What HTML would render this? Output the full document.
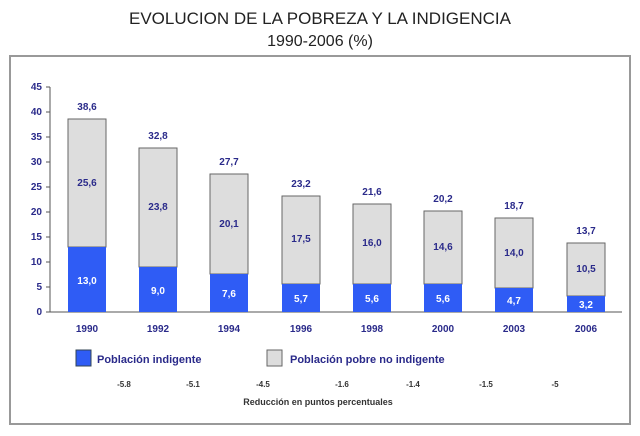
<!DOCTYPE html>
<html><head><meta charset="utf-8"><style>
body{margin:0;background:#fff;width:640px;height:431px;overflow:hidden}
svg text{font-family:"Liberation Sans",sans-serif}
</style></head><body>
<svg width="640" height="431" xmlns="http://www.w3.org/2000/svg">
<text x="320" y="24" text-anchor="middle" font-size="17" fill="#222">EVOLUCION DE LA POBREZA Y LA INDIGENCIA</text>
<text x="320" y="46" text-anchor="middle" font-size="16" fill="#222">1990-2006 (%)</text>
<rect x="10" y="56" width="620" height="368" fill="#fff" stroke="#999" stroke-width="2"/>
<g font-size="10" font-weight="bold" fill="#2a2a8a" text-anchor="end">
<text x="42" y="315">0</text><text x="42" y="290">5</text><text x="42" y="265">10</text><text x="42" y="240">15</text><text x="42" y="215">20</text><text x="42" y="190">25</text><text x="42" y="165">30</text><text x="42" y="140">35</text><text x="42" y="115">40</text><text x="42" y="90">45</text>
</g>
<g stroke="#555" stroke-width="1">
<line x1="50" y1="87" x2="50" y2="312"/><line x1="50" y1="312" x2="622" y2="312"/>
<line x1="46" y1="87" x2="50" y2="87"/><line x1="46" y1="112" x2="50" y2="112"/><line x1="46" y1="137" x2="50" y2="137"/><line x1="46" y1="162" x2="50" y2="162"/><line x1="46" y1="187" x2="50" y2="187"/><line x1="46" y1="212" x2="50" y2="212"/><line x1="46" y1="237" x2="50" y2="237"/><line x1="46" y1="262" x2="50" y2="262"/><line x1="46" y1="287" x2="50" y2="287"/><line x1="46" y1="312" x2="50" y2="312"/>
</g>
<g id="bars" font-size="10" font-weight="bold" text-anchor="middle">
<!-- center, total, ind -->
<rect x="68" y="119" width="38" height="128" fill="#ddd" stroke="#666"/><rect x="68" y="247" width="38" height="65" fill="#2f5cf5"/>
<text x="87" y="110" fill="#2a2a8a">38,6</text><text x="87" y="186" fill="#2a2a8a">25,6</text><text x="87" y="284" fill="#fff">13,0</text>
<rect x="139" y="148" width="38" height="119" fill="#ddd" stroke="#666"/><rect x="139" y="267" width="38" height="45" fill="#2f5cf5"/>
<text x="158" y="139" fill="#2a2a8a">32,8</text><text x="158" y="210" fill="#2a2a8a">23,8</text><text x="158" y="294" fill="#fff">9,0</text>
<rect x="210" y="174" width="38" height="100" fill="#ddd" stroke="#666"/><rect x="210" y="274" width="38" height="38" fill="#2f5cf5"/>
<text x="229" y="165" fill="#2a2a8a">27,7</text><text x="229" y="227" fill="#2a2a8a">20,1</text><text x="229" y="297" fill="#fff">7,6</text>
<rect x="282" y="196" width="38" height="88" fill="#ddd" stroke="#666"/><rect x="282" y="284" width="38" height="28" fill="#2f5cf5"/>
<text x="301" y="187" fill="#2a2a8a">23,2</text><text x="301" y="242" fill="#2a2a8a">17,5</text><text x="301" y="302" fill="#fff">5,7</text>
<rect x="353" y="204" width="38" height="80" fill="#ddd" stroke="#666"/><rect x="353" y="284" width="38" height="28" fill="#2f5cf5"/>
<text x="372" y="195" fill="#2a2a8a">21,6</text><text x="372" y="246" fill="#2a2a8a">16,0</text><text x="372" y="302" fill="#fff">5,6</text>
<rect x="424" y="211" width="38" height="73" fill="#ddd" stroke="#666"/><rect x="424" y="284" width="38" height="28" fill="#2f5cf5"/>
<text x="443" y="202" fill="#2a2a8a">20,2</text><text x="443" y="250" fill="#2a2a8a">14,6</text><text x="443" y="302" fill="#fff">5,6</text>
<rect x="495" y="218" width="38" height="70" fill="#ddd" stroke="#666"/><rect x="495" y="288" width="38" height="24" fill="#2f5cf5"/>
<text x="514" y="209" fill="#2a2a8a">18,7</text><text x="514" y="256" fill="#2a2a8a">14,0</text><text x="514" y="304" fill="#fff">4,7</text>
<rect x="567" y="243" width="38" height="53" fill="#ddd" stroke="#666"/><rect x="567" y="296" width="38" height="16" fill="#2f5cf5"/>
<text x="586" y="234" fill="#2a2a8a">13,7</text><text x="586" y="272" fill="#2a2a8a">10,5</text><text x="586" y="308" fill="#fff">3,2</text>
</g>
<g font-size="10" font-weight="bold" fill="#2a2a8a" text-anchor="middle">
<text x="87" y="332">1990</text><text x="158" y="332">1992</text><text x="229" y="332">1994</text><text x="301" y="332">1996</text><text x="372" y="332">1998</text><text x="443" y="332">2000</text><text x="514" y="332">2003</text><text x="586" y="332">2006</text>
</g>
<rect x="76" y="350" width="15" height="16" fill="#2f5cf5" stroke="#345"/>
<text x="97" y="363" font-size="11" font-weight="bold" fill="#2a2a8a">Población indigente</text>
<rect x="267" y="350" width="15" height="16" fill="#ddd" stroke="#666"/>
<text x="290" y="363" font-size="11" font-weight="bold" fill="#2a2a8a">Población pobre no indigente</text>
<g font-size="8" font-weight="bold" fill="#333" text-anchor="middle">
<text x="124" y="387">-5.8</text><text x="193" y="387">-5.1</text><text x="263" y="387">-4.5</text><text x="342" y="387">-1.6</text><text x="413" y="387">-1.4</text><text x="486" y="387">-1.5</text><text x="555" y="387">-5</text>
<text x="318" y="405" font-size="9">Reducción en puntos percentuales</text>
</g>
</svg>
</body></html>
